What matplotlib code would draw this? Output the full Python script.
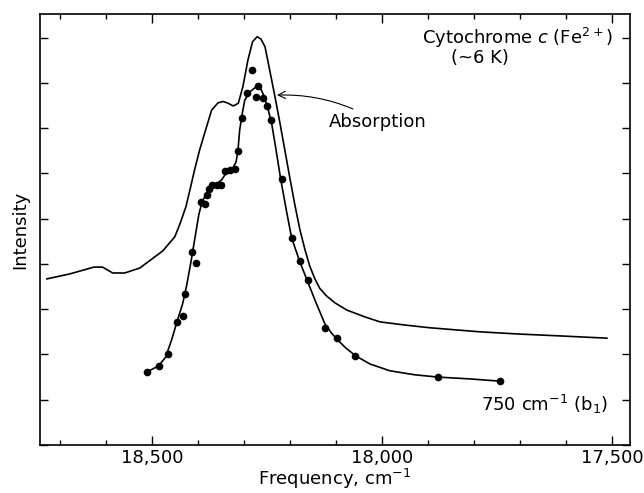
import numpy as np
import matplotlib.pyplot as plt
from matplotlib.ticker import MultipleLocator, FuncFormatter

# absorption curve (cm-1, arbitrary intensity)
abs_freq = [18728, 18678, 18626, 18607, 18585, 18559, 18526, 18476, 18450, 18439,
            18426, 18417, 18407, 18396, 18381, 18370, 18356, 18345, 18334, 18323,
            18312, 18302, 18291, 18281, 18271, 18263, 18254, 18243, 18233, 18222,
            18211, 18200, 18189, 18178, 18167, 18157, 18146, 18135, 18120, 18102,
            18076, 18037, 18004, 17950, 17896, 17787, 17700, 17613, 17511]
abs_int = [3.67, 3.78, 3.93, 3.93, 3.80, 3.80, 3.91, 4.29, 4.60, 4.88,
           5.26, 5.64, 6.08, 6.52, 7.03, 7.40, 7.56, 7.59, 7.55, 7.49,
           7.55, 7.92, 8.51, 8.91, 9.02, 8.97, 8.80, 8.24, 7.73, 7.14,
           6.52, 5.90, 5.30, 4.75, 4.31, 3.96, 3.68, 3.46, 3.29, 3.14,
           2.98, 2.83, 2.72, 2.65, 2.59, 2.50, 2.45, 2.41, 2.36]

# 750 cm-1 (b1) excitation profile, drawn line
ram_freq = [18511, 18485, 18470, 18457, 18446, 18433, 18424, 18415, 18407, 18398,
            18391, 18383, 18372, 18359, 18348, 18337, 18324, 18317, 18313, 18309,
            18304, 18298, 18287, 18274, 18265, 18257, 18248, 18239, 18230, 18220,
            18207, 18196, 18178, 18161, 18143, 18124, 18110, 18098, 18078, 18057,
            18026, 17983, 17928, 17878, 17809, 17743]
ram_int = [1.61, 1.75, 1.94, 2.32, 2.70, 3.12, 3.54, 4.04, 4.53, 5.08,
           5.37, 5.52, 5.68, 5.77, 5.86, 6.03, 6.12, 6.25, 6.48, 6.96,
           7.29, 7.62, 7.80, 7.91, 7.91, 7.73, 7.45, 7.07, 6.52, 5.88,
           5.15, 4.57, 4.04, 3.60, 3.14, 2.68, 2.48, 2.34, 2.14, 1.97,
           1.79, 1.64, 1.55, 1.50, 1.46, 1.41]

# measured points
pt_freq = [18511, 18485, 18465, 18446, 18433, 18428, 18413, 18404, 18393, 18385,
           18380, 18376, 18370, 18359, 18350, 18341, 18330, 18320, 18313, 18304,
           18293, 18283, 18274, 18270, 18259, 18250, 18241, 18217, 18196, 18178,
           18161, 18124, 18098, 18059, 17878, 17743]
pt_int = [1.61, 1.75, 2.01, 2.72, 2.85, 3.34, 4.27, 4.02, 5.37, 5.33,
          5.52, 5.66, 5.75, 5.75, 5.75, 6.06, 6.08, 6.10, 6.50, 7.23,
          7.78, 8.29, 7.69, 7.93, 7.67, 7.49, 7.18, 5.88, 4.57, 4.07,
          3.65, 2.59, 2.36, 1.97, 1.50, 1.41]

plt.rcParams['font.family'] = ['DejaVu Sans']
plt.rcParams['mathtext.fontset'] = 'dejavusans'

fig = plt.figure(figsize=(6.44, 4.93), dpi=100)
ax = fig.add_axes([0.0621, 0.0974, 0.916, 0.874])

ax.plot(abs_freq, abs_int, color='black', lw=1.2, solid_joinstyle='round')
ax.plot(ram_freq, ram_int, color='black', lw=1.2, solid_joinstyle='round')
ax.plot(pt_freq, pt_int, 'o', color='black', ms=4.5)

ax.set_xlim(18743, 17461)
ax.set_ylim(0, 9.52)

ax.xaxis.set_major_locator(MultipleLocator(500))
ax.xaxis.set_minor_locator(MultipleLocator(100))
ax.xaxis.set_major_formatter(FuncFormatter(lambda v, p: f"{int(v):,}"))
ax.yaxis.set_major_locator(MultipleLocator(1))
ax.set_yticklabels([])
ax.tick_params(which='major', axis='x', direction='in', length=6.5, width=1,
               top=True, labelsize=13, pad=3)
ax.tick_params(which='minor', axis='x', direction='in', length=3.6, width=1, top=True)
ax.tick_params(axis='y', direction='in', length=6, width=1, right=True, labelleft=False)
for s in ax.spines.values():
    s.set_linewidth(1.2)

ax.set_xlabel(r'Frequency, cm$^{-1}$', fontsize=13, labelpad=0)
ax.set_ylabel('Intensity', fontsize=13, labelpad=8)

ax.text(0.971, 0.944, r'Cytochrome $\mathit{c}$ (Fe$^{2+}$)', transform=ax.transAxes,
        ha='right', va='center', fontsize=13)
ax.text(0.746, 0.898, '(~6 K)', transform=ax.transAxes, ha='center', va='center', fontsize=13)
ax.text(0.856, 0.095, r'750 cm$^{-1}$ (b$_1$)', transform=ax.transAxes,
        ha='center', va='center', fontsize=13)

ax.annotate('Absorption', xy=(18228, 7.73), xytext=(18115, 7.14),
            ha='left', va='center', fontsize=13,
            arrowprops=dict(arrowstyle='->', color='black', lw=0.8,
                            connectionstyle='arc3,rad=0.15', shrinkA=2, shrinkB=0))

plt.savefig('out.png', dpi=100)
